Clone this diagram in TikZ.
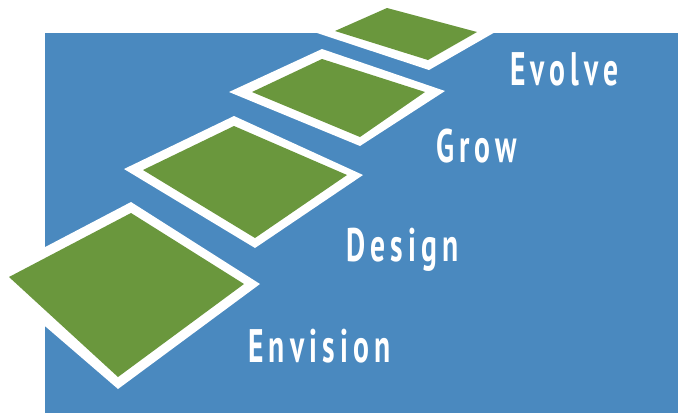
\documentclass[tikz,border=0pt]{standalone}
\usepackage{fontspec}
\newfontfamily\stepfont[FakeStretch=0.63,LetterSpace=11]{PT Sans}
\definecolor{sky}{HTML}{4A89BF}
\definecolor{turf}{HTML}{6A973D}
\tikzset{
	edge/.style={fill=white},
	turf/.style={fill=turf},
	steplabel/.style={text=white, anchor=base west, inner sep=0pt, font=\stepfont\bfseries\fontsize{47}{47}\selectfont}
}

\begin{document}
\begin{tikzpicture}[x=1pt, y=-1pt]
	%%%%% START %%%%%
	\useasboundingbox (0, 0) rectangle (678, 413);
	\clip (0, 0) rectangle (678, 413);
	
	\fill[sky] (45, 33) rectangle (678, 413);
	
	% evolve
	\fill[edge] (387, -3) -- (497, 31) -- (429, 70) -- (311, 31) -- cycle;
	\fill[turf] (387, 8) -- (477, 32) -- (428, 60) -- (335, 31) -- cycle;
	
	% grow
	\fill[edge] (322, 49) -- (445, 91) -- (360, 146) -- (229, 92) -- cycle;
	\fill[turf] (322, 59) -- (425, 92) -- (360, 137) -- (252, 92) -- cycle;
	
	% design
	\fill[edge] (234, 116) -- (363, 175) -- (255, 248) -- (124, 169) -- cycle;
	\fill[turf] (234, 126) -- (347, 175) -- (255, 238) -- (143, 170) -- cycle;
	
	% envision
	\fill[edge] (131, 202) -- (260, 284) -- (118, 389) -- (-12, 277) -- cycle;
	\fill[turf] (131, 213) -- (244, 284) -- (118, 377) -- (9, 277) -- cycle;
	
	\node[steplabel] (evolve) at (510, 85) {Evolve};
	\node[steplabel] (grow) at (436, 162) {Grow};
	\node[steplabel] (design) at (346, 261) {Design};
	\node[steplabel] (envision) at (248, 362) {Envision};
	
	%%%%% END %%%%%
\end{tikzpicture}
\end{document}
